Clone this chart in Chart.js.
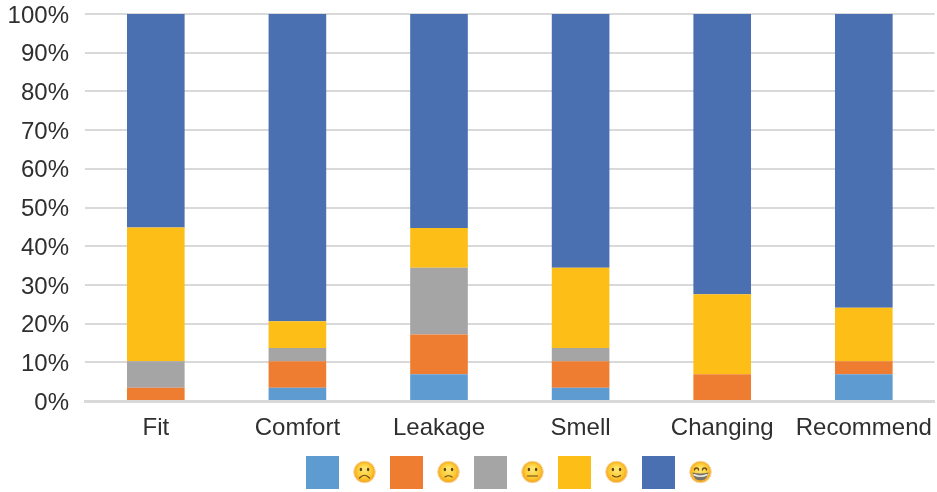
<!DOCTYPE html>
<html>
<head>
<meta charset="utf-8">
<title>Survey ratings</title>
<script src="https://cdn.jsdelivr.net/npm/chart.js@4"></script>
<style>
  html, body { margin: 0; padding: 0; background: #fff; }
  canvas { display: block; }
</style>
</head>
<body>
<canvas id="ratingChart" width="937" height="492"></canvas>
<script>
const categories = ['Fit', 'Comfort', 'Leakage', 'Smell', 'Changing', 'Recommend'];
const veryUnhappy = [0, 3.4, 6.9, 3.4, 0, 6.9];
const unhappy = [3.4, 6.9, 10.3, 6.9, 6.9, 3.4];
const neutral = [6.9, 3.4, 17.2, 3.4, 0, 0];
const happy = [34.5, 6.9, 10.3, 20.7, 20.7, 13.8];
const veryHappy = [55.2, 79.4, 55.3, 65.6, 72.4, 75.9];

const seriesNames = ['Very unhappy', 'Unhappy', 'Neutral', 'Happy', 'Very happy'];
const seriesColors = ['#5e9bd1', '#ee7d31', '#a5a5a5', '#fdbe17', '#4a70b2'];
const textColor = '#2f2f2f';
const gridColor = '#d9d9d9';

function makeDataset(name, values, color) {
    return {
        label: name,
        data: values,
        backgroundColor: color,
        borderWidth: 0,
        stack: 'ratings',
        categoryPercentage: 1,
        barPercentage: 0.407
    };
}

// Rounded yellow face with a mood-specific mouth
function drawFace(ctx, x, y, mood) {
    const r = 10.8;
    const skin = ctx.createRadialGradient(x, y - 3, 2, x, y, r);
    skin.addColorStop(0, '#fee36a');
    skin.addColorStop(0.65, '#fcc62e');
    skin.addColorStop(1, '#f5a020');
    ctx.beginPath();
    ctx.arc(x, y, r, 0, Math.PI * 2);
    ctx.fillStyle = skin;
    ctx.fill();
    ctx.lineWidth = 1;
    ctx.strokeStyle = '#f9d8a4';
    ctx.stroke();

    ctx.fillStyle = '#5e3f14';
    ctx.strokeStyle = '#6b4a1a';
    ctx.lineCap = 'round';

    if (mood === 4) {
        // grin: arched eyes and an open toothy mouth
        ctx.lineWidth = 1.4;
        [-4, 4].forEach(dx => {
            ctx.beginPath();
            ctx.arc(x + dx, y - 2, 2, Math.PI, 0);
            ctx.stroke();
        });
        ctx.beginPath();
        ctx.moveTo(x - 8, y + 0.5);
        ctx.quadraticCurveTo(x, y + 2.5, x + 8, y + 0.5);
        ctx.quadraticCurveTo(x + 6.5, y + 8.5, x, y + 8.5);
        ctx.quadraticCurveTo(x - 6.5, y + 8.5, x - 8, y + 0.5);
        ctx.fillStyle = '#77746c';
        ctx.fill();
        ctx.beginPath();
        ctx.moveTo(x - 6.5, y + 2.8);
        ctx.quadraticCurveTo(x, y + 5.8, x + 6.5, y + 2.8);
        ctx.strokeStyle = '#eeece5';
        ctx.lineWidth = 1.6;
        ctx.stroke();
        return;
    }

    [-3.6, 3.6].forEach(dx => {
        ctx.beginPath();
        ctx.ellipse(x + dx, y - 2.5, 1.2, 1.7, 0, 0, Math.PI * 2);
        ctx.fill();
    });

    ctx.lineWidth = 1.2;
    ctx.beginPath();
    if (mood === 0) {
        ctx.moveTo(x - 5, y + 6);
        ctx.quadraticCurveTo(x, y + 0.5, x + 5, y + 6);
    } else if (mood === 1) {
        ctx.moveTo(x - 3.5, y + 5);
        ctx.quadraticCurveTo(x, y + 2.5, x + 3.5, y + 5);
    } else if (mood === 2) {
        ctx.moveTo(x - 5, y + 4);
        ctx.lineTo(x + 5, y + 4);
    } else {
        ctx.moveTo(x - 4, y + 3.5);
        ctx.quadraticCurveTo(x, y + 6.5, x + 4, y + 3.5);
    }
    ctx.stroke();
}

// Legend row along the bottom: colour swatch followed by a face
const faceLegend = {
    id: 'faceLegend',
    afterDraw(chart) {
        const ctx = chart.ctx;
        ctx.save();
        seriesColors.forEach((color, i) => {
            const left = 306 + i * 84;
            ctx.fillStyle = color;
            ctx.fillRect(left, 456, 33, 33);
            drawFace(ctx, left + 58.5, 472, i);
        });
        ctx.restore();
    }
};

// Percent labels sit a little below their gridlines
const nudgeYLabels = {
    id: 'nudgeYLabels',
    beforeDraw(chart) {
        chart.scales.y.getLabelItems().forEach(item => {
            item.options.translation[1] += 2;
        });
    }
};

const ctx = document.getElementById('ratingChart').getContext('2d');
new Chart(ctx, {
    type: 'bar',
    data: {
        labels: categories,
        datasets: [
            makeDataset(seriesNames[0], veryUnhappy, seriesColors[0]),
            makeDataset(seriesNames[1], unhappy, seriesColors[1]),
            makeDataset(seriesNames[2], neutral, seriesColors[2]),
            makeDataset(seriesNames[3], happy, seriesColors[3]),
            makeDataset(seriesNames[4], veryHappy, seriesColors[4])
        ]
    },
    options: {
        responsive: false,
        animation: false,
        layout: { padding: { top: 14, right: 2, left: 0, bottom: 0 } },
        plugins: {
            legend: { display: false },
            title: { display: false },
            tooltip: { enabled: false }
        },
        scales: {
            x: {
                stacked: true,
                afterFit(scale) { scale.height = 91; },
                grid: { display: false },
                border: { display: true, color: gridColor, width: 3 },
                ticks: {
                    color: textColor,
                    padding: 5,
                    maxRotation: 0,
                    autoSkip: false,
                    font: { family: '"Liberation Sans", Arial, sans-serif', size: 24 }
                }
            },
            y: {
                stacked: true,
                min: 0,
                max: 100,
                afterFit(scale) {
                    scale.width = 85;
                    // keep the plot top at the padding, not pushed down by the 100% label
                    scale.paddingTop = 0;
                    scale.paddingBottom = 0;
                },
                grid: { color: gridColor, lineWidth: 2, drawTicks: false },
                border: { display: false },
                ticks: {
                    stepSize: 10,
                    color: textColor,
                    padding: 16,
                    callback: value => value + '%',
                    font: { family: '"Liberation Sans", Arial, sans-serif', size: 24 }
                }
            }
        }
    },
    plugins: [faceLegend, nudgeYLabels]
});
</script>
</body>
</html>
